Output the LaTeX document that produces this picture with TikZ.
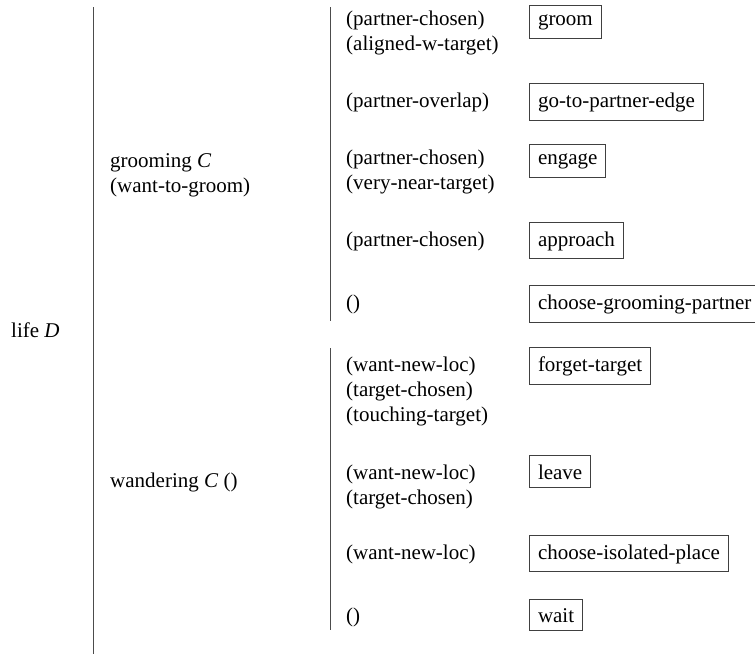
\documentclass[tikz,border=0pt]{standalone}
\usepackage{fontspec}
\setmainfont{Liberation Serif}
\begin{document}
\begin{tikzpicture}[x=1pt,y=-1pt,
  lbl/.style={anchor=base west,inner sep=0pt,font=\fontsize{21}{25}\selectfont},
  act/.style={anchor=base west,draw=black!75,line width=1pt,inner sep=8.5pt,font=\fontsize{21}{25}\selectfont},
  bar/.style={draw=black!70,line width=1pt}]
\useasboundingbox (0,0) rectangle (755,654);
% root
\node[lbl] (life) at (11,337) {life \textit{D}};
\coordinate (l1t) at (93,7);
\coordinate (l1b) at (93,654);
\draw[bar] (l1t) -- (l1b);
% composites
\node[lbl] (groomA) at (110,167) {grooming \textit{C}};
\node[lbl] (groomB) at (110,192) {(want-to-groom)};
\node[lbl] (wand) at (110,487) {wandering \textit{C} ()};
\coordinate (l2t) at (330,7);
\coordinate (l2b) at (330,321);
\draw[bar] (l2t) -- (l2b);
\coordinate (l3t) at (330,348);
\coordinate (l3b) at (330,630);
\draw[bar] (l3t) -- (l3b);
% grooming rows
\node[lbl] (g1a) at (346,25) {(partner-chosen)};
\node[lbl] (g1b) at (346,50) {(aligned-w-target)};
\node[act] (g1) at (529,25) {groom};
\node[lbl] (g2a) at (346,107) {(partner-overlap)};
\node[act] (g2) at (529,107) {go-to-partner-edge};
\node[lbl] (g3a) at (346,164) {(partner-chosen)};
\node[lbl] (g3b) at (346,189) {(very-near-target)};
\node[act] (g3) at (529,164) {engage};
\node[lbl] (g4a) at (346,246) {(partner-chosen)};
\node[act] (g4) at (529,246) {approach};
\node[lbl] (g5a) at (346,309) {()};
\node[act] (g5) at (529,309) {choose-grooming-partner};
% wandering rows
\node[lbl] (w1a) at (346,371) {(want-new-loc)};
\node[lbl] (w1b) at (346,396) {(target-chosen)};
\node[lbl] (w1c) at (346,421) {(touching-target)};
\node[act] (w1) at (529,371) {forget-target};
\node[lbl] (w2a) at (346,479) {(want-new-loc)};
\node[lbl] (w2b) at (346,504) {(target-chosen)};
\node[act] (w2) at (529,479) {leave};
\node[lbl] (w3a) at (346,559) {(want-new-loc)};
\node[act] (w3) at (529,559) {choose-isolated-place};
\node[lbl] (w4a) at (346,622) {()};
\node[act] (w4) at (529,622) {wait};
\end{tikzpicture}
\end{document}
